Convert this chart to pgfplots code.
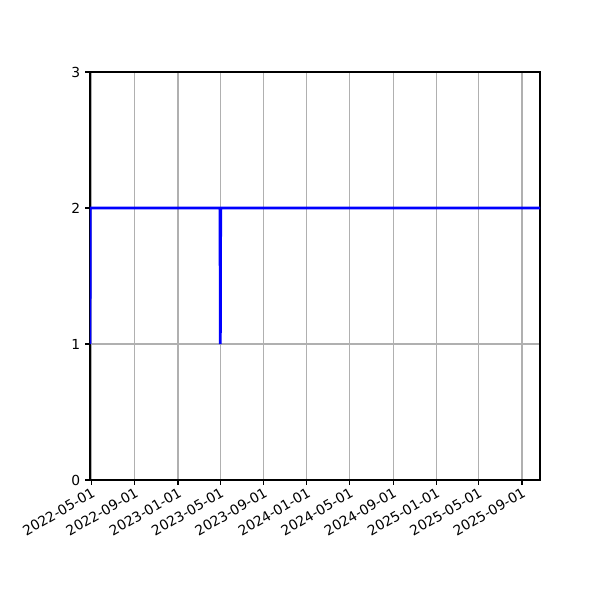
\documentclass[border=0pt]{standalone}
\usepackage{fontspec}
\setmainfont{DejaVu Sans}
\usepackage{pgfplots}
\pgfplotsset{compat=1.18}

% days counted from 2022-05-01
\begin{document}
\fontsize{10}{12}\selectfont
\begin{tikzpicture}
\path[use as bounding box] (-0.9in,-1.2in) rectangle (5.1in,4.8in);
\begin{axis}[
    scale only axis,
    width=4.5in, height=4.08in,
    xmin=-4, xmax=1270,
    ymin=0, ymax=3,
    ytick={0,1,2,3},
    xtick={0,123,245,365,488,610,731,854,976,1096,1219},
    xticklabels={2022-05-01,2022-09-01,2023-01-01,2023-05-01,2023-09-01,2024-01-01,2024-05-01,2024-09-01,2025-01-01,2025-05-01,2025-09-01},
    xticklabel style={rotate=30, anchor=north east, inner sep=1pt, font=\fontsize{10}{12}\selectfont},
    yticklabel style={font=\fontsize{10}{12}\selectfont},
    /pgf/number format/assume math mode=true,
    tick align=outside,
    tick pos=left,
    major tick length=3.5pt,
    every tick/.style={black, line width=0.8pt},
    axis line style={line width=0.8pt},
    grid=major,
    major grid style={color={rgb,255:red,176;green,176;blue,176}, line width=0.8pt},
]
\addplot[color={rgb,255:red,0;green,0;blue,255}, line width=2pt, mark=none]
coordinates {(-4,1) (-3,2) (364,2) (365,1) (366,2) (1270,2)};
\end{axis}
\end{tikzpicture}
\end{document}
